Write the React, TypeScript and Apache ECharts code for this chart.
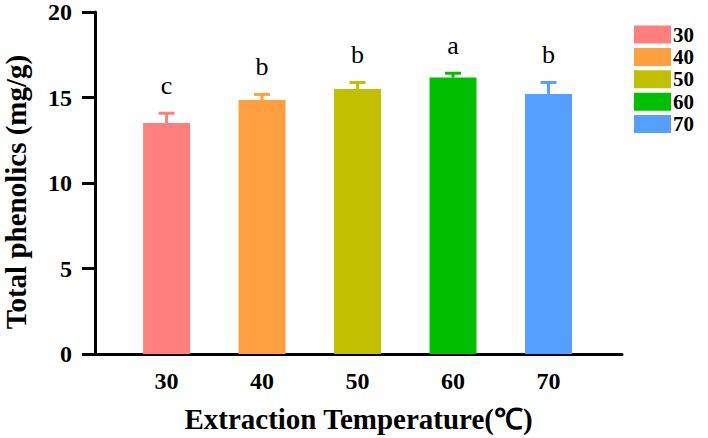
import React, { useEffect, useRef } from "react";
import * as echarts from "echarts";

const categories = [30, 40, 50, 60, 70];
const means = [13.51, 14.85, 15.5, 16.17, 15.21];
const errors = [0.57, 0.33, 0.38, 0.25, 0.67];
const letters = ["c", "b", "b", "a", "b"];
const colors = ["#FF7F7F", "#FF9F3F", "#C0C000", "#00BF00", "#559FFF"];
const xTitle = "Extraction Temperature(℃)";
const yTitle = "Total phenolics (mg/g)";

const serif = "'Liberation Serif', 'Times New Roman', serif";

export default function App() {
  const ref = useRef<HTMLDivElement>(null);
  useEffect(() => {
    if (!ref.current) return;
    const chart = echarts.init(ref.current, undefined, { renderer: "svg" });
    const barSeries = categories.map((c, i) => ({
      name: String(c),
      type: "bar",
      barWidth: 47,
      barGap: "-100%",
      itemStyle: { color: colors[i] },
      data: [[c, means[i]]],
    }));
    const errSeries = {
      type: "custom",
      name: "err",
      z: 3,
      data: categories.map((c, i) => [c, means[i], errors[i], i]),
      renderItem: (params: any, api: any) => {
        const x = api.value(0);
        const m = api.value(1);
        const e = api.value(2);
        const idx = api.value(3);
        const p0 = api.coord([x, m]);
        const p1 = api.coord([x, m + e]);
        const col = colors[idx];
        return {
          type: "group",
          children: [
            {
              type: "line",
              shape: { x1: p0[0], y1: p0[1], x2: p1[0], y2: p1[1] },
              style: { stroke: col, lineWidth: 3 },
            },
            {
              type: "line",
              shape: { x1: p1[0] - 8, y1: p1[1], x2: p1[0] + 8, y2: p1[1] },
              style: { stroke: col, lineWidth: 3 },
            },
            {
              type: "text",
              x: p1[0],
              y: p1[1] - 28,
              style: {
                text: letters[idx],
                fill: "#000",
                font: `26px ${serif}`,
                align: "center",
                verticalAlign: "middle",
              },
            },
          ],
        };
      },
    };
    const legends = categories.map((c, i) => ({
      data: [String(c)],
      orient: "vertical",
      left: 634,
      top: 24 + i * 22.4,
      itemWidth: 37,
      itemHeight: 18,
      itemGap: 0,
      itemStyle: { borderWidth: 0 },
      textStyle: {
        fontFamily: serif,
        fontWeight: "bold",
        fontSize: 21,
        lineHeight: 18,
        color: "#000",
        padding: [0, 0, 0, -3],
      },
      icon: "rect",
      padding: 0,
    }));
    chart.setOption({
      animation: false,
      legend: legends,
      grid: { left: 95, right: 86, top: 9.5, bottom: 81 },
      graphic: [
        {
          type: "text",
          x: 15.5,
          y: 192,
          rotation: Math.PI / 2,
          style: {
            text: yTitle,
            font: `bold 29px ${serif}`,
            fill: "#000",
            align: "center",
            verticalAlign: "middle",
          },
        },
      ],
      xAxis: {
        type: "value",
        min: 22.5,
        max: 77.7,
        splitLine: { show: false },
        axisLine: { lineStyle: { color: "#000", width: 3 } },
        axisTick: { show: false },
        axisLabel: {
          customValues: categories,
          margin: 15,
          fontFamily: serif,
          fontWeight: "bold",
          fontSize: 24,
          color: "#000",
        },
        name: xTitle,
        nameLocation: "middle",
        nameGap: 50,
        nameTextStyle: {
          fontFamily: serif,
          fontWeight: "bold",
          fontSize: 29,
          color: "#000",
        },
      },
      yAxis: {
        type: "value",
        min: 0,
        max: 20,
        interval: 5,
        splitLine: { show: false },
        axisLine: { show: true, lineStyle: { color: "#000", width: 3 } },
        axisTick: { show: true, length: 13, lineStyle: { color: "#000", width: 3 } },
        axisLabel: {
          margin: 23,
          fontFamily: serif,
          fontWeight: "bold",
          fontSize: 24,
          color: "#000",
        },
      },
      series: [...barSeries, errSeries],
    });
    return () => chart.dispose();
  }, []);
  return <div ref={ref} style={{ width: 708, height: 438, position: "absolute", left: 0, top: 0 }} />;
}
